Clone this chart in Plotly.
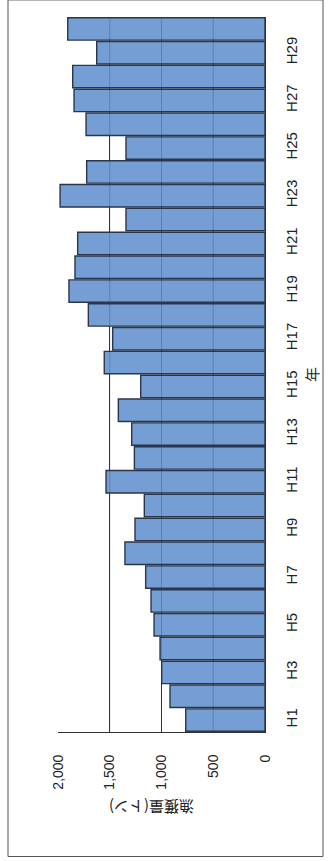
import plotly.graph_objects as go

# Annual catch (tonnes), Heisei 1 to Heisei 30
years = [f"H{i}" for i in range(1, 31)]
catch = [766, 918, 998, 1014, 1072, 1101, 1153, 1353, 1256, 1166,
         1536, 1262, 1288, 1417, 1201, 1553, 1472, 1707, 1894, 1836,
         1810, 1343, 1980, 1723, 1343, 1729, 1845, 1858, 1626, 1906]
year_ticks = years[::2]
value_ticks = [0, 500, 1000, 1500, 2000]
value_labels = ["0", "500", "1,000", "1,500", "2,000"]

FONT = "Liberation Sans, Arial, Noto Sans CJK JP"
JP_FONT = "Noto Sans CJK JP, Liberation Sans"
BAR = "#759ed4"
EDGE = "#2b364a"

fig = go.Figure(go.Bar(
    x=catch, y=years, orientation="h",
    marker=dict(color=BAR, line=dict(color=EDGE, width=1.4)),
))

# faint grid lines showing through the bars
for v in value_ticks[1:4]:
    fig.add_shape(type="line", xref="x", yref="paper", x0=v, x1=v, y0=0, y1=1,
                  line=dict(color="rgba(40,60,100,0.30)", width=1), layer="above")

# outer chart frame
fig.add_shape(type="rect", xref="paper", yref="paper",
              x0=-50 / 207, x1=265 / 207, y0=-124 / 712, y1=(712 + 17) / 712,
              line=dict(color="#555555", width=1), fillcolor="rgba(0,0,0,0)")

fig.add_annotation(text="漁獲量(トン)", xref="paper", yref="paper",
                   x=(152 - 58) / 207, y=-(819 - 732) / 712, showarrow=False,
                   textangle=180, font=dict(family=JP_FONT, size=15, color="#222"))

fig.update_layout(
    width=335, height=861,
    margin=dict(l=58, r=70, t=17, b=129),
    paper_bgcolor="white", plot_bgcolor="white",
    bargap=0.06, showlegend=False,
    font=dict(family=FONT, size=15, color="#222"),
    xaxis=dict(
        range=[2000, 0], tickvals=value_ticks, ticktext=value_labels,
        tickangle=-90, showgrid=True, gridcolor="#333", gridwidth=1,
        zeroline=False, showline=True, linecolor="#333", linewidth=1,
        ticks="", ticklabelstandoff=16, tickfont=dict(size=14),
    ),
    yaxis=dict(
        type="category", categoryorder="array", categoryarray=years,
        tickvals=year_ticks, ticktext=year_ticks, side="right",
        tickangle=-90, showgrid=False, zeroline=False,
        showline=True, linecolor="#333", linewidth=1, ticks="",
        ticklabelstandoff=13,
        title=dict(text="年", font=dict(family=JP_FONT, size=15), standoff=8),
    ),
)

fig.write_html("out.html")
